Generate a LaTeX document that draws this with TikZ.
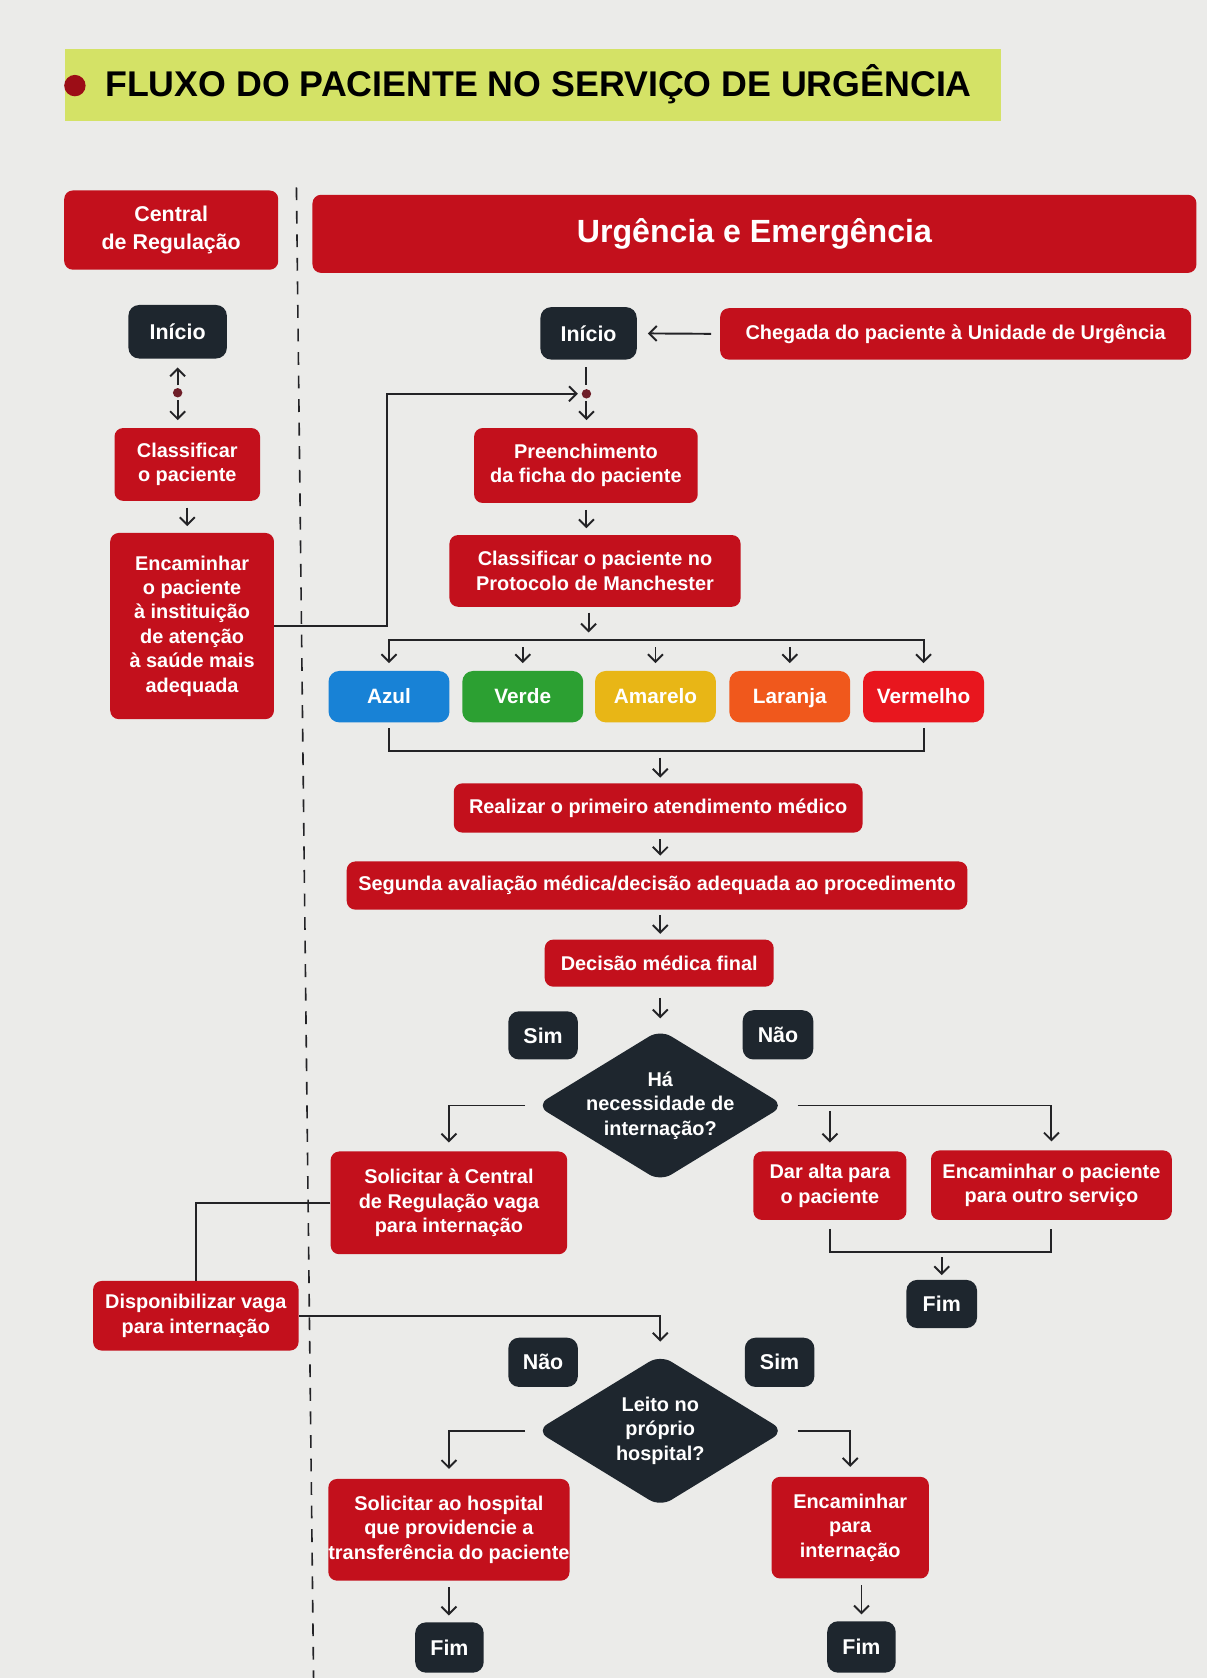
\documentclass[tikz,border=0pt]{standalone}
\usepackage{fontspec}
\setmainfont{Liberation Sans}
\usetikzlibrary{shapes.geometric,arrows.meta,calc}
\definecolor{cbg}{RGB}{235,235,233}
\definecolor{cred}{RGB}{195,16,28}
\definecolor{cdark}{RGB}{30,38,46}
\definecolor{clime}{RGB}{212,226,102}
\definecolor{cblue}{RGB}{24,130,214}
\definecolor{cgreen}{RGB}{44,160,50}
\definecolor{cyellow}{RGB}{232,182,22}
\definecolor{corange}{RGB}{240,88,28}
\definecolor{cverm}{RGB}{232,22,30}
\definecolor{cline}{RGB}{35,35,38}
\definecolor{cdot}{RGB}{110,30,40}
\newcommand\fbody{\bfseries\fontsize{9.3}{11.4}\selectfont}
\newcommand\fstart{\bfseries\fontsize{10}{12}\selectfont}
\newcommand\fcentral{\bfseries\fontsize{10}{13}\selectfont}
\newcommand\fhead{\bfseries\fontsize{15}{18}\selectfont}
\newcommand\ftitle{\bfseries\fontsize{16.7}{20}\selectfont}
\newcommand\fcolor{\bfseries\fontsize{9.7}{12}\selectfont}
\tikzset{
  rbox/.style={rectangle, rounded corners=4pt, fill=cred, text=white, font=\fbody, align=center, inner sep=0pt},
  dbox/.style={rbox, fill=cdark, rounded corners=5pt, font=\fstart},
  cbox/.style={rbox, font=\fcolor, minimum width=56.5pt, minimum height=24pt, rounded corners=5pt, text height=7pt, text depth=0.5pt},
  dmd/.style={diamond, fill=cdark, rounded corners=6pt, inner sep=0pt, minimum width=116pt, minimum height=71pt},
  dtext/.style={text=white, font=\fbody, align=center, inner sep=0pt},
  conn/.style={draw=cline, line width=0.9pt},
  arr/.style={conn, -{Straight Barb[length=3.5pt,width=7pt]}},
  darr/.style={conn, {Straight Barb[length=3.5pt,width=7pt]}-{Straight Barb[length=3.5pt,width=7pt]}},
  sepline/.style={draw=cline, line width=0.75pt, dash pattern=on 6pt off 5pt},
}
\begin{document}
\begin{tikzpicture}[x=0.5pt,y=-0.5pt]
\fill[cbg] (0,0) rectangle (1128,1568);
\useasboundingbox (0,0) rectangle (1128,1568);

% title
\fill[clime] (61,46) rectangle (935,113);
\fill[cred!80!black] (70,80) circle (5pt);
\node[anchor=base west, font=\ftitle, text=black, inner sep=0pt] (title) at (98,90) {FLUXO DO PACIENTE NO SERVIÇO DE URGÊNCIA};

% separator
\draw[sepline] (277,175) -- (293,1568);

% headers
\node[rbox, font=\fcentral, minimum width=100pt, minimum height=37pt] (central) at (160,215) {Central\\de Regulação};
\node[rbox, font=\fhead, minimum width=413pt, minimum height=36.5pt] (urg) at (705,218.5) {Urgência e Emergência};

% start nodes
\node[dbox, minimum width=46pt, minimum height=25pt] (inicioL) at (166,310) {Início};
\node[dbox, minimum width=45pt, minimum height=24.5pt] (inicioR) at (550,311.5) {Início};
\node[rbox, minimum width=220pt, minimum height=24pt] (chegada) at (893,312) {Chegada do paciente à Unidade de Urgência};

% left column
\node[rbox, minimum width=68pt, minimum height=34pt] (classL) at (175,434) {Classificar\\o paciente};
\node[rbox, minimum width=76.5pt, minimum height=87pt] (encL) at (179.5,585) {Encaminhar\\o paciente\\à instituição\\de atenção\\à saúde mais\\adequada};

% right column
\node[rbox, minimum width=104.5pt, minimum height=35pt] (preench) at (547.5,435) {Preenchimento\\da ficha do paciente};
\node[rbox, minimum width=136pt, minimum height=33.5pt] (classR) at (556,533.5) {Classificar o paciente no\\Protocolo de Manchester};

\node[cbox, fill=cblue] (azul) at (363.5,651) {Azul};
\node[cbox, fill=cgreen] (verde) at (488.5,651) {Verde};
\node[cbox, fill=cyellow] (amarelo) at (612.5,651) {Amarelo};
\node[cbox, fill=corange] (laranja) at (738,651) {Laranja};
\node[cbox, fill=cverm] (vermelho) at (863,651) {Vermelho};

\node[rbox, minimum width=191pt, minimum height=23pt] (realizar) at (615,755) {Realizar o primeiro atendimento médico};
\node[rbox, minimum width=290pt, minimum height=22.5pt] (segunda) at (614,827.5) {Segunda avaliação médica/decisão adequada ao procedimento};
\node[rbox, minimum width=107pt, minimum height=22pt] (decisao) at (616,900) {Decisão médica final};

\node[dbox, minimum width=32.5pt, minimum height=22.5pt] (sim1) at (507.5,967.5) {Sim};
\node[dbox, minimum width=33pt, minimum height=23pt] (nao1) at (727,967) {Não};
\node[dmd] (d1) at (617,1033) {};
\node[dtext] (d1t) at (d1) {Há\\necessidade de\\internação?};

\node[rbox, minimum width=110.5pt, minimum height=48pt] (solicC) at (419.5,1124) {Solicitar à Central\\de Regulação vaga\\para internação};
\node[rbox, minimum width=71.5pt, minimum height=32pt] (alta) at (775.5,1108) {Dar alta para\\o paciente};
\node[rbox, minimum width=112.5pt, minimum height=32.5pt] (encOutro) at (982.5,1107.5) {Encaminhar o paciente\\para outro serviço};
\node[dbox, minimum width=33pt, minimum height=22.5pt] (fim1) at (880,1218.5) {Fim};

\node[rbox, minimum width=96pt, minimum height=32.5pt] (dispon) at (183,1229.5) {Disponibilizar vaga\\para internação};

\node[dbox, minimum width=32.5pt, minimum height=23pt] (nao2) at (507.5,1273) {Não};
\node[dbox, minimum width=32.5pt, minimum height=23pt] (sim2) at (728.5,1273) {Sim};
\node[dmd] (d2) at (617,1337) {};
\node[dtext] (d2t) at (d2) {Leito no\\próprio\\hospital?};

\node[rbox, minimum width=111pt, minimum height=47.5pt] (solicH) at (419.5,1429.5) {Solicitar ao hospital\\que providencie a\\transferência do paciente};
\node[rbox, minimum width=73.5pt, minimum height=47.5pt] (encInt) at (794.5,1427.5) {Encaminhar\\para\\internação};
\node[dbox, minimum width=32pt, minimum height=23.5pt] (fim2) at (420,1539.5) {Fim};
\node[dbox, minimum width=32pt, minimum height=24pt] (fim3) at (805,1539) {Fim};

% helper coordinates
\coordinate (dotL) at (166,367);
\coordinate (dotR) at (548,368);
\coordinate (bendE) at (362,368);
\coordinate (busT) at (550,598);
\coordinate (busB) at (617,702);
\coordinate (busC) at (880,1170);

% connectors top
\draw[arr, shorten <=4pt, shorten >=5pt] (chegada.west) -- (inicioR.east);
\draw[arr, shorten <=3.5pt, shorten >=4pt] (dotL) -- (inicioL.south);
\draw[arr, shorten <=3.5pt, shorten >=3.5pt] (dotL) -- (dotL |- classL.north);
\fill[cdot] (dotL) circle (2.2pt);
\draw[conn, shorten <=3.5pt, shorten >=4pt] (dotR |- inicioR.south) -- (dotR);
\draw[arr, shorten <=3.5pt, shorten >=3.5pt] (dotR) -- (dotR |- preench.north);
\draw[arr, shorten >=4pt] (encL.east) -| (bendE) -- (dotR);
\fill[cdot] (dotR) circle (2.2pt);
\draw[arr, shorten <=3pt, shorten >=3pt] (classL.south) -- (classL.south |- encL.north);
\draw[arr, shorten <=3pt, shorten >=3pt] (dotR |- preench.south) -- (dotR |- classR.north);

% bus to colors
\draw[arr, shorten <=2.5pt, shorten >=3.5pt] (busT |- classR.south) -- (busT);
\draw[darr, shorten <=3.5pt, shorten >=3.5pt] (azul.north) |- (busT) -| (vermelho.north);
\draw[arr, shorten <=3.5pt, shorten >=3.5pt] (verde.north |- busT) -- (verde.north);
\draw[arr, shorten <=3.5pt, shorten >=3.5pt] (amarelo.north |- busT) -- (amarelo.north);
\draw[arr, shorten <=3.5pt, shorten >=3.5pt] (laranja.north |- busT) -- (laranja.north);
\draw[conn, shorten <=2.5pt, shorten >=2.5pt] (azul.south) |- (busB) -| (vermelho.south);
\draw[arr, shorten <=3pt, shorten >=2.5pt] (busB) -- (busB |- realizar.north);

% main column
\draw[arr, shorten <=3pt, shorten >=2.5pt] (busB |- realizar.south) -- (busB |- segunda.north);
\draw[arr, shorten <=2.5pt, shorten >=2.5pt] (busB |- segunda.south) -- (busB |- decisao.north);
\draw[arr, shorten <=5pt, shorten >=5pt] (d1 |- decisao.south) -- (d1.north);

% decision 1
\draw[arr, shorten <=5pt, shorten >=4pt] (d1.west) -| (solicC.north);
\draw[arr, shorten <=6pt, shorten >=4pt] (d1.east) -| (encOutro.north);
\draw[arr, shorten <=2.5pt, shorten >=4pt] (alta.north |- d1.east) -- (alta.north);
\draw[conn, shorten <=4pt, shorten >=4pt] (alta.south) |- (busC) -| (encOutro.south);
\draw[arr, shorten <=2.5pt, shorten >=2pt] (busC) -- (fim1.north);

% regulation loop
\draw[conn] (solicC.west) -| (dispon.north);
\draw[arr, shorten >=6pt] (dispon.east) -| (d2.north);

% decision 2
\draw[arr, shorten <=5pt, shorten >=4.5pt] (d2.west) -| (solicH.north);
\draw[arr, shorten <=6pt, shorten >=4.5pt] (d2.east) -| (encInt.north);
\draw[arr, shorten <=3pt, shorten >=3pt] (solicH.south) -- (solicH.south |- fim2.north);
\draw[arr, shorten <=3pt, shorten >=3pt] (fim3.north |- encInt.south) -- (fim3.north);
\end{tikzpicture}
\end{document}
